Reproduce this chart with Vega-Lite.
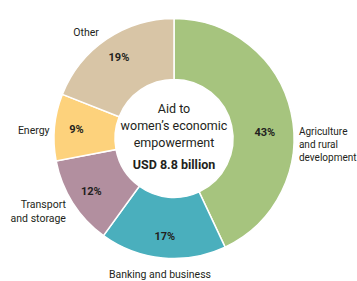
{
  "$schema": "https://vega.github.io/schema/vega-lite/v6.json",
  "width": 348,
  "height": 277,
  "autosize": "none",
  "padding": {"left": 0, "top": 0, "right": 9, "bottom": 4},
  "background": "white",
  "config": {"view": {"stroke": null}, "text": {"font": "Roboto", "color": "#231f20"}},
  "data": {"values": [
    {"k": 1, "sector": "Agriculture and rural development", "label": "Agriculture\nand rural\ndevelopment", "share": 43},
    {"k": 2, "sector": "Banking and business", "label": "Banking and business", "share": 17},
    {"k": 3, "sector": "Transport and storage", "label": "Transport\nand storage", "share": 12},
    {"k": 4, "sector": "Energy", "label": "Energy", "share": 9},
    {"k": 5, "sector": "Other", "label": "Other", "share": 19}
  ]},
  "transform": [{"calculate": "datum.share + '%'", "as": "pct"}],
  "encoding": {
    "theta": {"field": "share", "type": "quantitative", "stack": true},
    "order": {"field": "k", "type": "quantitative", "sort": "ascending"}
  },
  "layer": [
    {
      "mark": {"type": "arc", "innerRadius": 59, "outerRadius": 120, "stroke": "white", "strokeWidth": 1.5},
      "encoding": {
        "color": {"field": "sector", "type": "nominal", "legend": null,
          "scale": {"domain": ["Agriculture and rural development", "Banking and business", "Transport and storage", "Energy", "Other"],
                    "range": ["#a6c47e", "#4aafbd", "#b28f9f", "#fdd27c", "#d8c5a6"]}}
      }
    },
    {
      "mark": {"type": "text", "radius": 98, "dy": 1, "fontWeight": "bold", "fontSize": 11},
      "encoding": {"text": {"condition": {"test": "datum.k != 1", "field": "pct"}, "value": ""}}
    },
    {
      "mark": {"type": "text", "radius": 92, "dx": 1, "dy": 15, "fontWeight": "bold", "fontSize": 11},
      "encoding": {"text": {"condition": {"test": "datum.k == 1", "field": "pct"}, "value": ""}}
    },
    {
      "mark": {"type": "text", "radius": 128, "dx": 0, "dy": 21.5, "align": "left", "fontSize": 10, "lineBreak": "\n", "lineHeight": 13},
      "encoding": {"text": {"condition": {"test": "datum.k == 1", "field": "label"}, "value": ""}}
    },
    {
      "mark": {"type": "text", "radius": 128, "dx": -2, "dy": 9, "align": "center", "fontSize": 10.5},
      "encoding": {"text": {"condition": {"test": "datum.k == 2", "field": "label"}, "value": ""}}
    },
    {
      "mark": {"type": "text", "radius": 128, "dx": 0, "dy": -2, "align": "right", "fontSize": 10.5, "lineBreak": "\n", "lineHeight": 14},
      "encoding": {"text": {"condition": {"test": "datum.k == 3", "field": "label"}, "value": ""}}
    },
    {
      "mark": {"type": "text", "radius": 128, "dx": 3, "dy": 5, "align": "right", "fontSize": 10.5},
      "encoding": {"text": {"condition": {"test": "datum.k == 4", "field": "label"}, "value": ""}}
    },
    {
      "mark": {"type": "text", "radius": 128, "dx": -16, "dy": 0, "align": "center", "fontSize": 10.5},
      "encoding": {"text": {"condition": {"test": "datum.k == 5", "field": "label"}, "value": ""}}
    },
    {
      "data": {"values": [{"t": "Aid to\nwomen’s economic\nempowerment"}]},
      "transform": [],
      "mark": {"type": "text", "dy": -30, "fontSize": 12.5, "lineBreak": "\n", "lineHeight": 17},
      "encoding": {"theta": null, "order": null, "text": {"field": "t"}}
    },
    {
      "data": {"values": [{"t": "USD 8.8 billion"}]},
      "transform": [],
      "mark": {"type": "text", "dy": 26, "fontSize": 12.5, "fontWeight": "bold"},
      "encoding": {"theta": null, "order": null, "text": {"field": "t"}}
    }
  ]
}
